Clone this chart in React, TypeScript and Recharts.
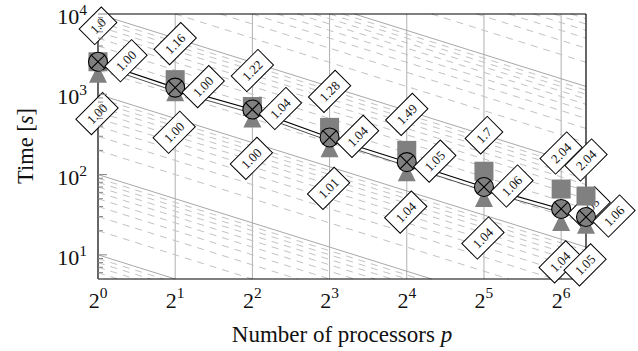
import React from 'react';
import { ComposedChart, Line, Scatter, XAxis, YAxis } from 'recharts';

// ---- data ----
const processors = [1, 2, 4, 8, 16, 32, 64, 80];
const squareTimes = [2541, 1521, 704, 387, 200, 110, 66, 54];
const circleTimes = [2541, 1211, 646, 290, 143, 70, 37.3, 29.6];
const triangleTimes = [1754, 1029, 486, 206, 104, 49.6, 25, 23];
// second (thin) connecting line drawn just below the circle line, p = 1..64
const secondLineTimes = [2300, 1090, 580, 262, 128, 63, 33.5];
const topLabels = ['1.0', '1.16', '1.22', '1.28', '1.49', '1.7', '2.04', '2.04'];
const middleLabels = ['1.00', '1.00', '1.04', '1.04', '1.05', '1.06', '1.05', '1.06'];
const bottomLabels = ['1.00', '1.00', '1.00', '1.01', '1.04', '1.04', '1.04', '1.05'];

const xTicks = [1, 2, 4, 8, 16, 32, 64];
const yMajorTicks = [10, 100, 1000, 10000];
const yAllTicks = [
  5, 6, 7, 8, 9,
  10, 20, 30, 40, 50, 60, 70, 80, 90,
  100, 200, 300, 400, 500, 600, 700, 800, 900,
  1000, 2000, 3000, 4000, 5000, 6000, 7000, 8000, 9000,
  10000,
];
const guideMultipliers = [1, 2, 3, 4, 5, 6, 7, 8, 9];
const guideDecades = [1, 10, 100, 1000, 10000, 100000];

const X_DOMAIN: [number, number] = [1, 80];
const Y_DOMAIN: [number, number] = [5, 10000];

const FONT = '"Liberation Serif", "Times New Roman", serif';
const GREY = '#808080';

type Pt = { p: number; t: number; label?: string };

const makeSeries = (times: number[], labels: string[]): Pt[] =>
  processors.map((p, i) => ({ p, t: times[i], label: labels[i] }));

const squares = makeSeries(squareTimes, topLabels);
const circles = makeSeries(circleTimes, middleLabels);
const triangles = makeSeries(triangleTimes, bottomLabels);
const secondLine: Pt[] = secondLineTimes.map((t, i) => ({ p: processors[i], t }));

// first run (p = 1..64) and separate last run (p = 80)
const splitA = (s: Pt[]) => s.slice(0, 7);
const splitB = (s: Pt[]) => s.slice(7);

// ideal-scaling guide lines t = c / p, clipped to the plot domain (data units)
const guides: { c: number; major: boolean; pts: Pt[] }[] = [];
guideDecades.forEach((d) => {
  guideMultipliers.forEach((m) => {
    const c = m * d;
    const pMin = Math.max(X_DOMAIN[0], c / Y_DOMAIN[1]);
    const pMax = Math.min(X_DOMAIN[1], c / Y_DOMAIN[0]);
    if (pMin < pMax) {
      guides.push({
        c,
        major: m === 1,
        pts: [
          { p: pMin, t: c / pMin },
          { p: pMax, t: c / pMax },
        ],
      });
    }
  });
});

const verticals = xTicks.slice(1).map((p) => [
  { p, t: Y_DOMAIN[0] },
  { p, t: Y_DOMAIN[1] },
]);

// ---- marker shapes ----
const SquareShape = (props: any) => {
  const { cx, cy } = props;
  return <rect x={cx - 9.5} y={cy - 9.5} width={19} height={19} fill={GREY} />;
};

const TriangleShape = (props: any) => {
  const { cx, cy } = props;
  return (
    <polygon
      points={`${cx},${cy - 10} ${cx - 9},${cy + 8} ${cx + 9},${cy + 8}`}
      fill={GREY}
    />
  );
};

const CircleXShape = (props: any) => {
  const { cx, cy } = props;
  const r = 9.5;
  const d = r * 0.7071;
  return (
    <g>
      <circle cx={cx} cy={cy} r={r} fill={GREY} stroke="#000" strokeWidth={1.1} />
      <line x1={cx - d} y1={cy - d} x2={cx + d} y2={cy + d} stroke="#000" strokeWidth={1.1} />
      <line x1={cx - d} y1={cy + d} x2={cx + d} y2={cy - d} stroke="#000" strokeWidth={1.1} />
    </g>
  );
};

const makeLabelShape = (dx: number, dy: number) => (props: any) => {
  const { cx, cy, payload } = props;
  const text: string = payload.label;
  let em = 0;
  for (const ch of text) em += ch === '.' ? 0.25 : 0.5;
  const fs = 13;
  const w = em * fs + 15;
  const h = 22;
  return (
    <g transform={`translate(${cx + dx},${cy + dy}) rotate(-45)`}>
      <rect x={-w / 2} y={-h / 2} width={w} height={h} fill="#fff" stroke="#000" strokeWidth={1} />
      <text
        x={0}
        y={4.5}
        textAnchor="middle"
        fontSize={fs}
        fontFamily={FONT}
        style={{ fontFamily: FONT }}
        fill="#111"
      >
        {text}
      </text>
    </g>
  );
};

const topLabel = makeLabelShape(0, -36);
const midLabel = makeLabelShape(28, -1);
const bottomLabel = makeLabelShape(-1, 39);

// ---- axis ticks ----
const XTick = (props: any) => {
  const { x, y, payload } = props;
  const e = Math.round(Math.log2(payload.value));
  return (
    <text
      x={x}
      y={y + 29}
      textAnchor="middle"
      fontFamily={FONT}
      style={{ fontFamily: FONT }}
      fontSize={22}
      fill="#111"
    >
      <tspan>2</tspan>
      <tspan dy={-10} fontSize={15.5}>{e}</tspan>
    </text>
  );
};

const isMajor = (v: number) => yMajorTicks.includes(v);

const YTickLeft = (props: any) => {
  const { x, y, payload } = props;
  const v = payload.value;
  const major = isMajor(v);
  const e = Math.round(Math.log10(v));
  return (
    <g>
      <line x1={x} y1={y} x2={x + (major ? 9 : 5)} y2={y} stroke="#888" strokeWidth={1} />
      {major && (
        <text
          x={x - 11}
          y={y + 10}
          textAnchor="end"
          fontFamily={FONT}
          style={{ fontFamily: FONT }}
          fontSize={22}
          fill="#111"
        >
          <tspan>10</tspan>
          <tspan dy={-9} fontSize={15.5}>{e}</tspan>
        </text>
      )}
    </g>
  );
};

const YTickRight = (props: any) => {
  const { x, y, payload } = props;
  const major = isMajor(payload.value);
  return <line x1={x} y1={y} x2={x - (major ? 9 : 5)} y2={y} stroke="#888" strokeWidth={1} />;
};

export default function App() {
  const seriesGroups = [
    { tri: splitA(triangles), sq: splitA(squares), ci: splitA(circles), key: 'A' },
    { tri: splitB(triangles), sq: splitB(squares), ci: splitB(circles), key: 'B' },
  ];
  return (
    <div
      style={{
        position: 'absolute',
        left: 0,
        top: 0,
        width: 638,
        height: 351,
        background: '#fff',
        fontFamily: FONT,
      }}
    >
      <ComposedChart
        width={638}
        height={351}
        margin={{ top: 14, right: 50, bottom: 0, left: 0 }}
      >
        <XAxis
          dataKey="p"
          type="number"
          scale="log"
          domain={X_DOMAIN}
          ticks={xTicks}
          interval={0}
          tick={<XTick />}
          tickLine={false}
          tickSize={0}
          tickMargin={0}
          height={72}
          axisLine={{ stroke: '#000', strokeWidth: 1.2 }}
        />
        <YAxis
          dataKey="t"
          type="number"
          scale="log"
          domain={Y_DOMAIN}
          ticks={yAllTicks}
          interval={0}
          tick={<YTickLeft />}
          tickLine={false}
          tickSize={0}
          tickMargin={0}
          width={98}
          axisLine={{ stroke: '#000', strokeWidth: 1.2 }}
        />
        <YAxis
          yAxisId="right"
          orientation="right"
          type="number"
          scale="log"
          domain={Y_DOMAIN}
          ticks={yAllTicks}
          interval={0}
          tick={<YTickRight />}
          tickLine={false}
          tickSize={0}
          tickMargin={0}
          width={2}
          axisLine={{ stroke: '#000', strokeWidth: 1.2 }}
        />

        {verticals.map((pts, i) => (
          <Line
            key={`v${i}`}
            data={pts}
            dataKey="t"
            stroke="#b0b0b0"
            strokeWidth={1}
            dot={false}
            activeDot={false}
            legendType="none"
            isAnimationActive={false}
          />
        ))}
        {guides.map((g) => (
          <Line
            key={`g${g.c}`}
            data={g.pts}
            dataKey="t"
            stroke={g.major ? '#a8a8a8' : '#c2c2c2'}
            strokeWidth={1}
            strokeDasharray={g.major ? undefined : '7 6'}
            dot={false}
            activeDot={false}
            legendType="none"
            isAnimationActive={false}
          />
        ))}
        {/* top border */}
        <Line
          data={[{ p: X_DOMAIN[0], t: Y_DOMAIN[1] }, { p: X_DOMAIN[1], t: Y_DOMAIN[1] }]}
          dataKey="t"
          stroke="#000"
          strokeWidth={1.2}
          dot={false}
          activeDot={false}
          legendType="none"
          isAnimationActive={false}
        />

        <Line
          data={secondLine}
          dataKey="t"
          stroke="#3a3a3a"
          strokeWidth={0.9}
          dot={false}
          activeDot={false}
          isAnimationActive={false}
        />
        <Line
          data={splitA(circles)}
          dataKey="t"
          stroke="#000"
          strokeWidth={1.1}
          dot={false}
          activeDot={false}
          isAnimationActive={false}
        />

        {seriesGroups.map((g) => [
          <Scatter key={`tri${g.key}`} data={g.tri} shape={TriangleShape} isAnimationActive={false} />,
          <Scatter key={`sq${g.key}`} data={g.sq} shape={SquareShape} isAnimationActive={false} />,
          <Scatter key={`ci${g.key}`} data={g.ci} shape={CircleXShape} isAnimationActive={false} />,
          <Scatter key={`lb${g.key}`} data={g.tri} shape={bottomLabel} isAnimationActive={false} />,
          <Scatter key={`lt${g.key}`} data={g.sq} shape={topLabel} isAnimationActive={false} />,
          <Scatter key={`lm${g.key}`} data={g.ci} shape={midLabel} isAnimationActive={false} />,
        ])}
      </ComposedChart>
      <svg
        width={638}
        height={351}
        style={{ position: 'absolute', left: 0, top: 0, pointerEvents: 'none' }}
      >
        <text
          transform="translate(33,146) rotate(-90)"
          textAnchor="middle"
          fontFamily={FONT}
          fontSize={22.5}
          fill="#111"
        >
          Time [<tspan fontStyle="italic">s</tspan>]
        </text>
        <text x={342} y={342} textAnchor="middle" fontFamily={FONT} fontSize={23} fill="#111">
          Number of processors <tspan fontStyle="italic">p</tspan>
        </text>
      </svg>
    </div>
  );
}
